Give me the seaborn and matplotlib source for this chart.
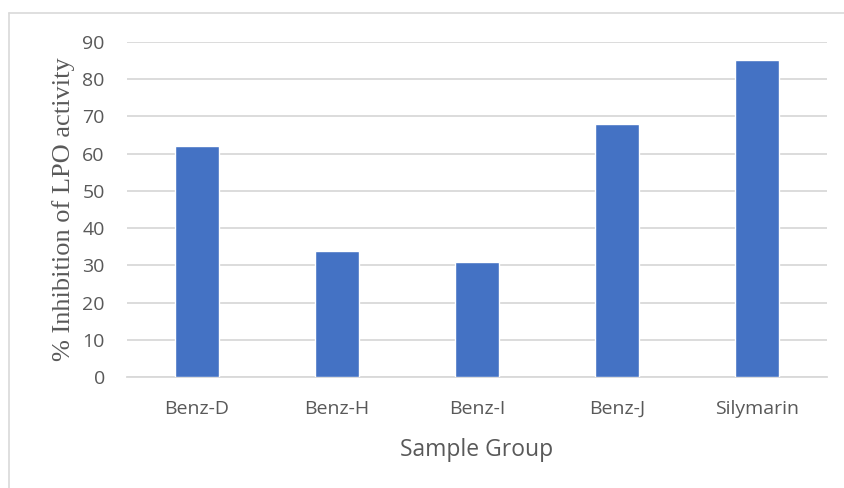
import matplotlib
matplotlib.use("Agg")
import matplotlib.pyplot as plt
from matplotlib.lines import Line2D
import seaborn as sns
import pandas as pd

# Data
groups = ["Benz-D", "Benz-H", "Benz-I", "Benz-J", "Silymarin"]
inhibition = [62, 34, 31, 68, 85]
y_ticks = [0, 10, 20, 30, 40, 50, 60, 70, 80, 90]

df = pd.DataFrame({"group": groups, "inhibition": inhibition})

sns.set_theme(style="white")
plt.rcParams["font.family"] = ["Open Sans", "DejaVu Sans"]

text_color = "#595959"
grid_color = "#d9d9d9"
bar_color = "#4472C4"

fig = plt.figure(figsize=(8.44, 4.88), dpi=100)
ax = fig.add_axes([0.1505, 0.2268, 0.8294, 0.6877])

sns.barplot(data=df, x="group", y="inhibition", color=bar_color,
            width=0.31, saturation=1, ax=ax, zorder=3)

ax.set_ylim(0, 90)
ax.set_xlim(-0.5, len(groups) - 0.5)
ax.set_yticks(y_ticks)
ax.yaxis.grid(True, color=grid_color, linewidth=1.3, zorder=0)
ax.set_axisbelow(True)

for s in ["top", "right", "left"]:
    ax.spines[s].set_visible(False)
ax.spines["bottom"].set_color(grid_color)
ax.spines["bottom"].set_linewidth(1.3)

ax.tick_params(axis="both", length=0, labelsize=14, colors=text_color)
ax.tick_params(axis="y", pad=16)
ax.tick_params(axis="x", pad=16)

ax.set_xlabel("Sample Group", fontsize=16.5, color=text_color, labelpad=15)
ax.set_ylabel("% Inhibition of LPO activity", fontsize=19, color=text_color,
              family=["Liberation Serif", "DejaVu Serif"], labelpad=5)

# Chart-area frame (top and left edges)
fig.add_artist(Line2D([8.5 / 844, 1.0], [1 - 12.5 / 488, 1 - 12.5 / 488],
                      transform=fig.transFigure, color=grid_color, linewidth=1.2))
fig.add_artist(Line2D([8.5 / 844, 8.5 / 844], [0.0, 1 - 12.5 / 488],
                      transform=fig.transFigure, color=grid_color, linewidth=1.2))

fig.savefig("out.png", dpi=100, facecolor="white")
